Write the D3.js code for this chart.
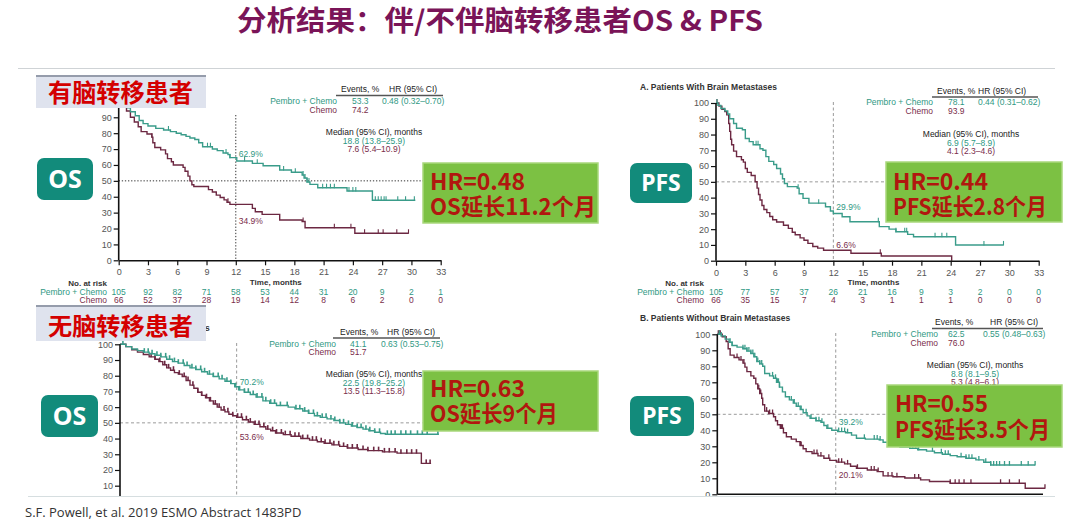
<!DOCTYPE html>
<html><head><meta charset="utf-8">
<script src="https://cdn.jsdelivr.net/npm/d3@7"></script>
<style>body{margin:0;background:#fff;}svg{display:block;}</style>
</head><body>
<svg id="c" width="1080" height="525"></svg>
<script>
// ---------------- DATA ----------------
const timeTicks = [0,3,6,9,12,15,18,21,24,27,30,33];
const survTicks = [0,10,20,30,40,50,60,70,80,90,100];
const groupNames = ["Pembro + Chemo","Chemo"];

// OS, brain metastases
const osBrainPembro = [[0,100],[0.5,98],[0.9,96],[1.2,93.5],[1.7,91],[2.1,88],[2.5,86],[3.0,84.5],[3.8,83],[4.6,82],[5.3,81],[5.9,80],[6.4,79],[6.9,78],[7.3,77],[7.8,76],[8.2,74],[8.6,71.5],[9.6,70],[10.1,69],[10.7,67.5],[11.2,66.5],[11.4,64.6],[12.1,62.5],[13.7,61],[14.8,59.5],[16.5,56.8],[17.7,55.4],[18.8,53.7],[19.0,51.8],[19.3,49.3],[19.6,47.8],[20.4,45.7],[23.4,43.6],[26.0,37.8],[30.4,37.8]];
const osBrainChemo = [[0,100],[0.4,97],[0.8,94],[1.2,90],[1.6,87],[2.0,84],[2.3,81],[2.9,79.5],[3.4,77.5],[3.5,74],[3.7,71],[4.3,69.5],[4.8,67],[5.0,64],[5.4,62],[5.6,60],[6.6,58.5],[6.8,56],[7.1,53],[7.3,50],[7.5,47.5],[7.7,46.4],[9.2,44.5],[9.6,43],[10.0,41],[10.4,39.5],[10.8,38],[11.1,36.5],[11.4,35.2],[13.7,32.7],[14.0,30.6],[14.7,28.9],[16.5,25.4],[18.8,24.4],[19.1,20.5],[24.2,17],[29.7,17]];
const osBrainPembroCensor = [5.1,9.1,9.4,11.0,11.4,12.9,14.2,16.9,18.1,18.9,19.1,19.3,19.5,20.9,21.3,21.7,22.1,23.6,24.0,24.3,26.3,26.6,26.9,27.2,27.4,28.6,29.4,30.3];
const osBrainChemoCensor = [3.4,11.2,18.9,22.1,23.8,25.2,26.6,27.1,28.5,29.7];
const osBrainRiskPembro = [105,92,82,71,58,53,44,31,20,9,2,1];
const osBrainRiskChemo = [66,52,37,28,19,14,12,8,6,2,0,0];
const osBrainEvents = ["53.3","74.2"];
const osBrainHR = "0.48 (0.32–0.70)";
const osBrainMedian = ["18.8 (13.8–25.9)","7.6 (5.4–10.9)"];
const osBrainAt12 = ["62.9%","34.9%"];

// PFS, brain metastases
const pfsBrainPembro = [[0,100],[0.2,98.5],[0.5,96.5],[0.9,95],[1.2,93],[1.4,90],[1.8,87],[2.1,84],[2.7,83],[3.0,77.5],[3.4,75.5],[3.8,73.5],[4.5,71],[4.8,70],[5.1,66],[5.4,63],[5.9,61],[6.2,58.5],[6.6,55],[6.8,52],[7.0,49],[7.3,47],[8.3,46],[8.5,42.5],[8.9,39.5],[9.5,36.5],[11.2,34.2],[11.7,31.5],[12.0,29.9],[12.9,27.9],[13.7,24.7],[16.7,21.6],[17.7,20],[18.4,18.4],[19.6,16.7],[20.2,15.2],[24.5,10],[29.4,10]];
const pfsBrainChemo = [[0,100],[0.3,98],[0.6,96],[0.9,94.5],[1.1,92.5],[1.3,87],[1.4,82],[1.5,77],[1.6,73.5],[1.8,69.5],[2.1,66],[2.6,64],[2.8,62.5],[3.0,58.5],[3.2,56],[3.6,54],[4.0,50.1],[4.2,46],[4.35,42],[4.5,38.5],[4.7,35],[4.9,32.5],[5.2,30.5],[5.5,28],[5.8,26],[6.2,24.5],[6.9,22.5],[7.4,20.5],[7.8,18],[8.1,16.5],[8.6,14.5],[9.0,13],[9.4,11],[9.9,9],[10.4,8],[11.0,6.6],[13.8,4.7],[16.9,3],[24.1,0]];
const pfsBrainPembroCensor = [0.1,4.1,4.3,8.4,10.5,16.6,18.4,19.3,19.5,22.4,23.1,23.6,27.4,29.4];
const pfsBrainChemoCensor = [0.1,16.8];
const pfsBrainRiskPembro = [105,77,57,37,26,21,16,9,3,2,0,0];
const pfsBrainRiskChemo = [66,35,15,7,4,3,1,1,1,0,0,0];
const pfsBrainEvents = ["78.1","93.9"];
const pfsBrainHR = "0.44 (0.31–0.62)";
const pfsBrainMedian = ["6.9 (5.7–8.9)","4.1 (2.3–4.6)"];
const pfsBrainAt12 = ["29.9%","6.6%"];

// OS, no brain metastases
const osNoBrainPembro = [[0,100],[0.6,98.5],[1.2,97],[1.8,96],[2.4,95],[3.0,94],[3.6,93],[4.2,92],[4.8,90.5],[5.4,89],[6.0,88],[6.6,86.5],[7.2,85],[7.8,84],[8.4,82.5],[9.0,81],[9.6,79.5],[10.2,78],[10.8,76.5],[11.4,75],[11.8,73],[12.2,71],[12.8,69.5],[13.4,68],[14.0,66.5],[14.7,64],[15.4,62.5],[16.1,61],[17.3,60],[18.0,59],[18.8,57.5],[19.4,56],[20.0,54.5],[20.6,53.5],[21.3,52.5],[22.0,51.5],[22.6,50],[23.2,49],[23.8,48],[24.4,47],[25.0,46],[25.6,45],[26.2,44],[26.8,43.2],[27.3,42.7],[32.8,42.7]];
const osNoBrainChemo = [[0,100],[0.6,98.5],[1.2,96.5],[1.8,95],[2.4,93.5],[3.0,92],[3.6,90.5],[4.0,89],[4.4,87],[4.8,85],[5.2,83.5],[5.6,82],[6.0,81],[6.4,79.5],[6.8,77],[7.2,74],[7.6,72],[8.0,69.5],[8.4,67.5],[8.8,66],[9.2,64],[9.6,62],[10.0,60],[10.4,58.2],[10.8,57],[11.2,55.5],[11.6,54.5],[12.0,53.6],[12.6,52],[13.2,50.5],[13.8,49],[14.4,47.5],[15.0,46],[15.5,45],[16.0,43.5],[16.8,42.5],[17.6,41.5],[18.6,40],[19.5,39],[20.3,38],[21.0,37],[21.8,36],[22.6,35],[23.4,34],[24.5,33],[25.5,32.3],[27.0,31.5],[28.5,30.7],[31.0,24.2],[32.0,24.2]];
const osNoBrainPembroCensor = [0.3,2.5,2.9,3.3,3.8,4.2,4.7,5.1,5.6,6.0,6.5,6.9,7.4,7.8,8.3,8.7,9.2,9.6,10.1,10.5,11.0,11.4,11.9,12.3,12.8,13.2,13.7,14.1,14.6,15.0,15.5,15.9,16.5,17.2,18.1,18.5,19.0,19.4,19.9,20.3,20.8,21.2,21.7,22.1,22.6,23.0,23.5,23.9,24.4,24.8,25.3,25.7,26.2,26.7,27.5,27.9,28.3,28.9,29.4,29.9,30.6,31.1,31.6,32.7];
const osNoBrainChemoCensor = [3.2,3.6,4.1,4.6,5.0,5.5,6.1,6.6,7.0,7.5,8.0,8.4,8.9,9.3,9.8,10.2,10.7,11.1,11.6,12.1,12.5,13.0,13.4,13.9,14.3,14.8,15.2,15.7,16.1,16.6,17.0,17.5,18.0,18.4,18.8,19.3,19.8,20.2,20.7,21.1,21.6,22.0,22.5,23.0,23.4,23.9,24.4,25.0,25.5,26.1,26.6,27.2,27.7,28.3,28.9,29.5,30.0,30.5,31.5,31.9];
const osNoBrainEvents = ["41.1","51.7"];
const osNoBrainHR = "0.63 (0.53–0.75)";
const osNoBrainMedian = ["22.5 (19.8–25.2)","13.5 (11.3–15.8)"];
const osNoBrainAt12 = ["70.2%","53.6%"];

// PFS, no brain metastases
const pfsNoBrainPembro = [[0,100],[0.4,99],[0.8,97],[1.2,95],[1.5,93],[2.0,92],[2.6,91],[3.0,89.5],[3.4,88],[3.7,86],[4.0,83],[4.3,81.5],[4.6,80],[4.8,75.5],[5.3,74],[5.7,72.5],[6.0,70],[6.3,67],[6.6,64],[6.9,61],[7.3,59],[7.7,57],[8.0,55],[8.4,53],[8.7,51],[9.1,49],[9.4,47.5],[10.0,46],[10.5,45],[10.8,43],[11.1,41.3],[11.6,40],[12.2,39.2],[13.0,38.5],[13.6,37],[14.1,35],[15.0,34.5],[16.4,34],[16.8,32.5],[17.3,31],[17.7,30],[18.5,29.5],[19.5,28.8],[20.3,27.8],[21.2,27],[22.0,26],[22.8,25],[23.6,24.2],[24.3,23.5],[25.2,22.5],[26.2,21.5],[27.0,20],[27.7,18.3],[32.2,18.3]];
const pfsNoBrainChemo = [[0,100],[0.5,98.5],[0.9,95.5],[1.1,91],[1.3,87],[1.7,85.5],[2.2,84],[2.6,82],[2.8,79.5],[3.0,76.7],[3.4,74],[3.7,72.5],[3.9,69],[4.1,66],[4.3,63],[4.5,60],[4.6,56],[4.8,52],[5.2,50.5],[5.7,48.5],[5.9,46],[6.1,43.5],[6.4,41.3],[6.7,38.5],[7.0,36],[7.5,34.5],[8.0,32.9],[8.4,30.5],[8.7,28.5],[9.0,26.7],[9.6,25.5],[10.2,24],[10.8,22.5],[11.4,21.2],[12.1,20.1],[12.9,19],[13.5,17.5],[14.1,16.3],[15.2,15.2],[16.2,14.2],[16.8,11.5],[17.8,11],[19.0,10.2],[20.6,9],[21.5,8],[23.6,6.9],[31.2,3.75],[33.2,3.75]];
const pfsNoBrainPembroCensor = [0.2,0.4,1.3,1.5,2.6,2.8,3.0,3.2,3.4,3.6,3.8,4.1,4.3,4.5,5.6,5.9,6.1,6.2,6.3,7.5,7.8,8.2,8.5,9.0,9.5,10.0,10.3,10.6,11.2,12.3,12.6,12.9,13.2,14.9,15.9,16.2,16.5,18.0,19.5,19.8,20.1,20.4,21.8,22.7,23.1,23.4,24.7,25.2,25.5,25.8,26.5,27.2,27.7,28.0,28.3,28.6,29.1,29.6,30.8,31.5,32.2];
const pfsNoBrainChemoCensor = [0.1,0.2,0.3,2.0,2.4,2.7,4.2,4.3,4.4,5.0,5.3,5.6,6.4,6.5,6.6,8.4,8.5,9.8,10.1,10.5,11.3,12.3,12.6,13.2,14.2,15.6,15.9,16.3,17.3,17.7,18.2,20.0,20.4,23.6,24.1,24.5,25.0,25.7,28.7,29.6,30.6,33.2];
const pfsNoBrainEvents = ["62.5","76.0"];
const pfsNoBrainHR = "0.55 (0.48–0.63)";
const pfsNoBrainMedian = ["8.8 (8.1–9.5)","5.3 (4.8–6.1)"];
const pfsNoBrainAt12 = ["39.2%","20.1%"];

const hrLines = [["HR=0.48","OS延长11.2个月"],["HR=0.44","PFS延长2.8个月"],["HR=0.63","OS延长9个月"],["HR=0.55","PFS延长3.5个月"]];
const endpointLabels = ["OS","PFS","OS","PFS"];
const groupLabels = ["有脑转移患者","无脑转移患者"];
const titleText = "分析结果：伴/不伴脑转移患者OS & PFS";
const panelTitles = ["A. Patients With Brain Metastases","B. Patients Without Brain Metastases"];
const citation = "S.F. Powell, et al. 2019 ESMO Abstract 1483PD";

// ---------------- STYLE ----------------
const FONT = '"Liberation Sans", Arial, sans-serif';
const CJK = '"Noto Sans CJK SC", "Noto Sans", sans-serif';
const TEAL = '#3a9c8a', PURP = '#6c2842', TEALT = '#2f9883', PURPT = '#7a2d4b';
const svg = d3.select('#c');

svg.append('text').attr('x',500).attr('y',31).attr('text-anchor','middle')
  .attr('font-family',CJK).attr('font-weight',700).attr('font-size',28)
  .attr('textLength',526).attr('lengthAdjust','spacingAndGlyphs')
  .attr('fill','#7a1458').text(titleText);
svg.append('line').attr('x1',18).attr('x2',1055).attr('y1',68.5).attr('y2',68.5)
  .attr('stroke','#cfd3d6').attr('stroke-width',1.2);

function survAt(steps,t){let s=steps[0][1];for(const [tt,ss] of steps){if(tt<=t)s=ss;}return s;}

const panels = [
 {pem:osBrainPembro,che:osBrainChemo,pc:osBrainPembroCensor,cc:osBrainChemoCensor,ev:osBrainEvents,hr:osBrainHR,med:osBrainMedian,at12:osBrainAt12,
  riskP:osBrainRiskPembro,riskC:osBrainRiskChemo,
  L:{x0:118.7,x1:440.7,y0:260.3,y100:101.4,dotted:true,hEnd:440,vTop:115,a1y:157,a2y:224,yVisTop:110,yVisBot:600,xAxis:'full',cw:1.1,
     evHdrX:341,hrHdrX:389,hdrY:92,lineY:95.5,lineX:[336,443],lblR:337,evX:352,hrX:382,r1:104.3,r2:113.3,
     medX:374,m0:135.3,m1:144.3,m2:152.3,riskR:107,clip:false}},
 {pem:pfsBrainPembro,che:pfsBrainChemo,pc:pfsBrainPembroCensor,cc:pfsBrainChemoCensor,ev:pfsBrainEvents,hr:pfsBrainHR,med:pfsBrainMedian,at12:pfsBrainAt12,
  riskP:pfsBrainRiskPembro,riskC:pfsBrainRiskChemo,title:panelTitles[0],
  L:{x0:716,x1:1038.7,y0:260.7,y100:103,dotted:false,hEnd:900,vTop:102,a1y:210,a2y:248,yVisTop:0,yVisBot:600,xAxis:'full',cw:1.1,
     evHdrX:937,hrHdrX:978,hdrY:94.3,lineY:97,lineX:[932,1038],lblR:933,evX:948,hrX:978,r1:105.3,r2:114.3,
     medX:971,m0:137.3,m1:146.3,m2:154.3,riskR:704,titleY:90,clip:false}},
 {pem:osNoBrainPembro,che:osNoBrainChemo,pc:osNoBrainPembroCensor,cc:osNoBrainChemoCensor,ev:osNoBrainEvents,hr:osNoBrainHR,med:osNoBrainMedian,at12:osNoBrainAt12,
  L:{x0:120,x1:440.8,y0:501.4,y100:344.3,dotted:false,hEnd:430,vTop:343,a1y:385,a2y:440,yVisTop:0,yVisBot:492,xAxis:'none',cw:1.6,
     evHdrX:340,hrHdrX:387,hdrY:335.3,lineY:338,lineX:[333,440],lblR:336,evX:350,hrX:381,r1:347.3,r2:355.3,
     medX:374,m0:377.3,m1:386.3,m2:394.3,clip:true}},
 {pem:pfsNoBrainPembro,che:pfsNoBrainChemo,pc:pfsNoBrainPembroCensor,cc:pfsNoBrainChemoCensor,ev:pfsNoBrainEvents,hr:pfsNoBrainHR,med:pfsNoBrainMedian,at12:pfsNoBrainAt12,
  title:panelTitles[1],
  L:{x0:717.3,x1:1043,y0:494.3,y100:334.3,dotted:false,hEnd:895,vTop:333,a1y:425,a2y:478,yVisTop:0,yVisBot:500,xAxis:'line',cw:1.3,
     evHdrX:935,hrHdrX:990,hdrY:325.3,lineY:328.5,lineX:[932,1043],lblR:938,evX:948,hrX:983,r1:337.3,r2:346.3,
     medX:975,m0:368.3,m1:377.3,m2:385.3,titleY:321,clip:true}}
];

const defs = svg.append('defs');
defs.append('clipPath').attr('id','bottomClip').append('rect').attr('x',0).attr('y',300).attr('width',1080).attr('height',196);

function txt(g,x,y,s,opt={}){
  return g.append('text').attr('x',x).attr('y',y).text(s)
    .attr('font-family',opt.family||FONT).attr('font-size',opt.size||8.5)
    .attr('font-weight',opt.weight||400).attr('fill',opt.fill||'#222')
    .attr('text-anchor',opt.anchor||'start');
}

panels.forEach((p,i)=>{
  const L = p.L;
  const g = svg.append('g');
  if(L.clip) g.attr('clip-path','url(#bottomClip)');
  const x = d3.scaleLinear().domain([0,33]).range([L.x0,L.x1]);
  const y = d3.scaleLinear().domain([0,100]).range([L.y0,L.y100]);

  const refStroke = L.dotted ? '#333' : '#9a9a9a';
  const dash = L.dotted ? '1.3,1.8' : '3,2.5';
  g.append('line').attr('x1',x(0)).attr('x2',L.hEnd).attr('y1',y(50)).attr('y2',y(50))
    .attr('stroke',refStroke).attr('stroke-width',1).attr('stroke-dasharray',dash);
  g.append('line').attr('x1',x(12)).attr('x2',x(12)).attr('y1',L.vTop).attr('y2',Math.min(y(0),496))
    .attr('stroke',refStroke).attr('stroke-width',1).attr('stroke-dasharray',dash);

  const line = d3.line().x(d=>x(d[0])).y(d=>y(d[1])).curve(d3.curveStepAfter);
  [[p.che,PURP,p.cc],[p.pem,TEAL,p.pc]].forEach(([steps,col,cens])=>{
    g.append('path').attr('d',line(steps)).attr('fill','none').attr('stroke',col).attr('stroke-width',1.4);
    g.append('g').selectAll('line').data(cens).join('line')
      .attr('x1',d=>x(d)).attr('x2',d=>x(d))
      .attr('y1',d=>y(survAt(steps,d))-4).attr('y2',d=>y(survAt(steps,d))+0.5)
      .attr('stroke',col).attr('stroke-width',L.cw);
  });

  const yTicks = survTicks.filter(v=>y(v)>L.yVisTop && y(v)<L.yVisBot);
  const ya = g.append('g').attr('transform',`translate(${x(0)},0)`)
    .call(d3.axisLeft(y).tickValues(yTicks).tickSize(5).tickSizeOuter(0).tickPadding(2));
  ya.select('.domain').attr('d',`M0,${y(100)}V${y(0)}`);
  const axes=[ya];
  if(L.xAxis==='full'){
    const xa = g.append('g').attr('transform',`translate(0,${y(0)})`)
      .call(d3.axisBottom(x).tickValues(timeTicks).tickSize(5).tickSizeOuter(0).tickPadding(3.5));
    axes.push(xa);
  } else if(L.xAxis==='line'){
    g.append('line').attr('x1',x(0)).attr('x2',x(33)).attr('y1',y(0)).attr('y2',y(0))
      .attr('stroke','#111').attr('stroke-width',1.6);
  }
  axes.forEach(a=>{
    a.select('.domain').attr('stroke','#111').attr('stroke-width',1.6);
    a.selectAll('.tick line').attr('stroke','#111').attr('stroke-width',1.2);
    a.selectAll('.tick text').attr('font-family',FONT).attr('font-size',9).attr('fill','#555');
  });

  txt(g,x(12)+3,L.a1y,p.at12[0],{fill:TEALT,size:8.5});
  txt(g,x(12)+3,L.a2y,p.at12[1],{fill:PURPT,size:8.5});

  txt(svg,L.evHdrX,L.hdrY,'Events, %',{fill:'#222'});
  txt(svg,L.hrHdrX,L.hdrY,'HR (95% CI)',{fill:'#222'});
  svg.append('line').attr('x1',L.lineX[0]).attr('x2',L.lineX[1]).attr('y1',L.lineY).attr('y2',L.lineY)
    .attr('stroke','#555').attr('stroke-width',1.4);
  txt(svg,L.lblR,L.r1,groupNames[0],{anchor:'end',fill:TEALT});
  txt(svg,L.lblR,L.r2,groupNames[1],{anchor:'end',fill:PURPT});
  txt(svg,L.evX,L.r1,p.ev[0],{fill:TEALT});
  txt(svg,L.evX,L.r2,p.ev[1],{fill:PURPT});
  txt(svg,L.hrX,L.r1,p.hr,{fill:TEALT});
  txt(svg,L.medX,L.m0,'Median (95% CI), months',{anchor:'middle',fill:'#222'});
  txt(svg,L.medX,L.m1,p.med[0],{anchor:'middle',fill:TEALT});
  txt(svg,L.medX,L.m2,p.med[1],{anchor:'middle',fill:PURPT});

  if(p.title) txt(svg,640,L.titleY,p.title,{weight:700,size:8.5,fill:'#333'});

  if(p.riskP){
    txt(svg,x(16.1),284.5,'Time, months',{anchor:'middle',weight:700,size:8,fill:'#333'});
    txt(svg,L.riskR,286,'No. at risk',{anchor:'end',weight:700,size:8,fill:'#333'});
    txt(svg,L.riskR,294.6,groupNames[0],{anchor:'end',fill:TEALT});
    txt(svg,L.riskR,303.3,groupNames[1],{anchor:'end',fill:PURPT});
    svg.append('g').selectAll('text').data(p.riskP).join('text')
      .attr('x',(d,k)=>x(timeTicks[k])).attr('y',294.6).attr('text-anchor','middle')
      .attr('font-family',FONT).attr('font-size',8.5).attr('fill',TEALT).text(d=>d);
    svg.append('g').selectAll('text').data(p.riskC).join('text')
      .attr('x',(d,k)=>x(timeTicks[k])).attr('y',303.3).attr('text-anchor','middle')
      .attr('font-family',FONT).attr('font-size',8.5).attr('fill',PURPT).text(d=>d);
  }
});

txt(svg,205,331,'s',{weight:700,size:8.5,fill:'#333'});

svg.append('line').attr('x1',28).attr('x2',1055).attr('y1',496.5).attr('y2',496.5).attr('stroke','#d6dee0').attr('stroke-width',1.2);
txt(svg,25,517,citation,{family:'"Open Sans", "Noto Sans", sans-serif',size:13,fill:'#333'});

const groupBoxes = [{x:36,y:75,w:170,h:33,ty:101.5,fs:24.5},{x:36,y:305,w:170,h:36,ty:334.5,fs:24}];
groupBoxes.forEach((b,i)=>{
  svg.append('rect').attr('x',b.x).attr('y',b.y).attr('width',b.w).attr('height',b.h).attr('fill','#dfe3ee');
  svg.append('rect').attr('x',b.x).attr('y',b.y).attr('width',b.w).attr('height',2).attr('fill','#959cab');
  svg.append('text').attr('x',48).attr('y',b.ty).text(groupLabels[i])
    .attr('font-family',CJK).attr('font-weight',700).attr('font-size',b.fs)
    .attr('textLength',145).attr('lengthAdjust','spacingAndGlyphs').attr('fill','#d40000');
});

const epBoxes = [{x:37,y:158,w:56,h:42,fs:25},{x:630,y:163,w:62,h:40,fs:23},{x:41,y:395,w:57,h:42,fs:25},{x:630,y:396,w:64,h:40,fs:23}];
epBoxes.forEach((b,i)=>{
  svg.append('rect').attr('x',b.x).attr('y',b.y).attr('width',b.w).attr('height',b.h).attr('rx',7)
    .attr('fill','#128b7b');
  svg.append('text').attr('x',b.x+b.w/2).attr('y',b.y+b.h/2+b.fs*0.36).attr('text-anchor','middle')
    .attr('font-family','"Noto Sans", "Open Sans", sans-serif').attr('font-weight',700).attr('font-size',b.fs)
    .attr('fill','#fff').text(endpointLabels[i]);
});

// HR boxes: two lines set as tspans of one text block
const hrBoxes = [
 {x:423,y:163,w:175,h:60,t1:[430,190,95],t2:[430,215,166]},
 {x:886,y:162,w:176,h:60,t1:[893,190,95],t2:[893,215,154]},
 {x:423,y:371,w:175,h:60,t1:[430,397,95],t2:[430,422,128]},
 {x:887,y:385,w:175,h:62,t1:[895,412,93],t2:[895,438,155]}
];
hrBoxes.forEach((b,i)=>{
  svg.append('rect').attr('x',b.x).attr('y',b.y).attr('width',b.w).attr('height',b.h)
    .attr('fill','#7cc143').attr('stroke','#a9d77c').attr('stroke-width',1.5);
  const t = svg.append('text').attr('font-family',CJK).attr('font-weight',700).attr('font-size',23).attr('fill','#b1170f');
  [b.t1,b.t2].forEach((tt,k)=>{
    t.append('tspan').attr('x',tt[0]).attr('y',tt[1]).text(hrLines[i][k])
      .attr('textLength',tt[2]).attr('lengthAdjust','spacingAndGlyphs');
  });
});
</script>
</body></html>
